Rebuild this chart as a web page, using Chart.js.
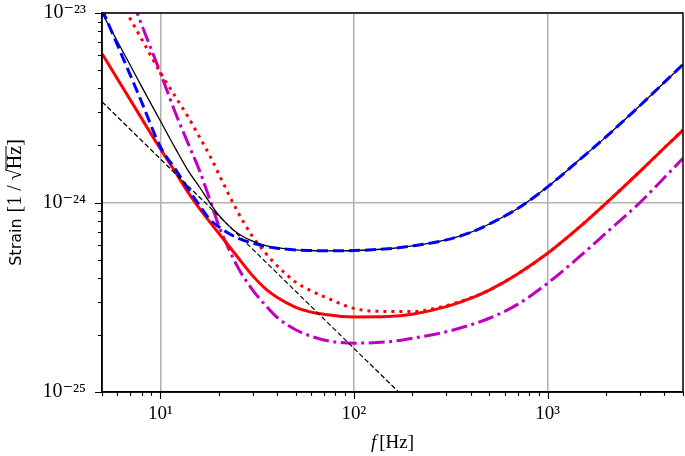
<!DOCTYPE html>
<html lang="en">

<head>
    <meta charset="UTF-8">
    <title>Strain</title>
    <script src="https://cdn.jsdelivr.net/npm/chart.js"></script>
    <style>
        body { margin: 0; background: #fff; }
        canvas { display: block; }
    </style>
</head>

<body>
    <canvas id="strainChart" width="685" height="456"></canvas>

    <script>
        const freq = [5, 6, 7, 8, 10, 12, 14, 16, 18, 20, 25, 30, 35, 40, 50, 60, 70, 100, 150, 200, 300, 400, 500, 700, 1000, 1500, 2000, 3000, 4000, 5000];

        const blueDashed = [1.05e-23, 6.8e-24, 4.7e-24, 3.4e-24, 1.97e-24, 1.49e-24, 1.17e-24, 9.6e-25, 8.15e-25, 7.45e-25, 6.5e-25, 6.1e-25, 5.86e-25, 5.74e-25, 5.62e-25, 5.58e-25, 5.56e-25, 5.58e-25, 5.7e-25, 5.9e-25, 6.35e-25, 6.95e-25, 7.7e-25, 9.3e-25, 1.21e-24, 1.72e-24, 2.22e-24, 3.25e-24, 4.3e-24, 5.35e-24];
        const blackSolid = [1.0e-23, 7.1e-24, 5.3e-24, 4.1e-24, 2.7e-24, 1.92e-24, 1.46e-24, 1.2e-24, 1.0e-24, 8.6e-25, 6.9e-25, 6.25e-25, 5.93e-25, 5.78e-25, 5.63e-25, 5.58e-25, 5.56e-25, 5.58e-25, 5.7e-25, 5.9e-25, 6.35e-25, 6.95e-25, 7.7e-25, 9.3e-25, 1.21e-24, 1.72e-24, 2.22e-24, 3.25e-24, 4.3e-24, 5.35e-24];
        const redSolid = [6.1e-24, 4.5e-24, 3.48e-24, 2.78e-24, 1.92e-24, 1.44e-24, 1.12e-24, 9.25e-25, 7.9e-25, 6.9e-25, 5.17e-25, 4.1e-25, 3.5e-25, 3.16e-25, 2.8e-25, 2.64e-25, 2.57e-25, 2.49e-25, 2.5e-25, 2.57e-25, 2.82e-25, 3.12e-25, 3.45e-25, 4.2e-25, 5.4e-25, 7.6e-25, 9.9e-25, 1.46e-24, 1.94e-24, 2.41e-24];
        const redDotted = [1.71e-23, 1.23e-23, 9.3e-24, 7.3e-24, 4.85e-24, 3.6e-24, 2.8e-24, 2.2e-24, 1.77e-24, 1.42e-24, 9.0e-25, 6.6e-25, 5.4e-25, 4.65e-25, 3.8e-25, 3.42e-25, 3.19e-25, 2.76e-25, 2.66e-25, 2.66e-25, 2.86e-25, 3.14e-25, 3.45e-25, 4.2e-25, 5.4e-25, 7.6e-25, 9.9e-25, 1.46e-24, 1.94e-24, 2.41e-24];
        const magentaDashDot = [3.0e-23, 1.87e-23, 1.24e-23, 8.7e-24, 4.85e-24, 2.95e-24, 2.02e-24, 1.46e-24, 1.04e-24, 7.6e-25, 4.6e-25, 3.45e-25, 2.86e-25, 2.48e-25, 2.13e-25, 1.97e-25, 1.88e-25, 1.81e-25, 1.84e-25, 1.92e-25, 2.08e-25, 2.26e-25, 2.45e-25, 2.9e-25, 3.75e-25, 5.3e-25, 6.9e-25, 1.0e-24, 1.35e-24, 1.71e-24];

        // thin black dashed reference line
        const refFreq = [5, 10, 20, 50, 100, 200];
        const refLine = [3.4e-24, 1.7e-24, 8.5e-25, 3.4e-25, 1.7e-25, 8.5e-26];

        // tick labels (decades only)
        const xDecades = [10, 100, 1000];
        const xTickLabels = ['10¹', '10²', '10³'];
        const yDecades = [1e-25, 1e-24, 1e-23];
        const yTickLabels = ['10⁻²⁵', '10⁻²⁴', '10⁻²³'];

        const serif = "'Liberation Serif', 'DejaVu Serif', serif";

        function isDecade(v) {
            const l = Math.log10(v);
            return Math.abs(l - Math.round(l)) < 1e-6;
        }

        function pts(xs, ys) {
            return xs.map((x, i) => ({ x: x, y: ys[i] }));
        }

        // 1..9 x 10^n ticks inside [min, max]
        function logTicks(min, max) {
            const out = [];
            for (let d = Math.floor(Math.log10(min)); d <= Math.ceil(Math.log10(max)); d++) {
                for (let m = 1; m < 10; m++) {
                    const v = m * Math.pow(10, d);
                    if (v >= min * 0.999999 && v <= max * 1.000001) out.push({ value: v });
                }
            }
            return out;
        }

        function labelFor(v, decades, labels) {
            for (let i = 0; i < decades.length; i++) {
                if (Math.abs(Math.log10(v) - Math.log10(decades[i])) < 1e-6) return labels[i];
            }
            return '';
        }

        function noPad(s) {
            s.paddingLeft = 0; s.paddingRight = 0;
            s.paddingTop = 0; s.paddingBottom = 0;
        }

        // ticks, frame and axis titles
        const axisDeco = {
            id: 'axisDeco',
            afterDraw(chart) {
                const { ctx, chartArea: a, scales } = chart;
                const x = scales.x, y = scales.y;
                ctx.save();
                ctx.strokeStyle = '#000';
                ctx.lineWidth = 1.1;
                ctx.beginPath();
                x.ticks.forEach(t => {
                    const px = Math.round(x.getPixelForValue(t.value)) + 0.5;
                    const len = isDecade(t.value) ? 7 : 4;
                    ctx.moveTo(px, a.bottom);
                    ctx.lineTo(px, a.bottom + len);
                });
                y.ticks.forEach(t => {
                    const py = Math.round(y.getPixelForValue(t.value)) + 0.5;
                    const len = isDecade(t.value) ? 7 : 4;
                    ctx.moveTo(a.left, py);
                    ctx.lineTo(a.left - len, py);
                });
                ctx.stroke();

                ctx.lineWidth = 1.5;
                ctx.strokeRect(a.left, a.top, a.right - a.left, a.bottom - a.top);

                // x title: italic f [Hz]
                ctx.fillStyle = '#000';
                ctx.textBaseline = 'alphabetic';
                const fFont = 'italic 19px ' + serif;
                const rFont = '19px ' + serif;
                ctx.font = fFont;
                const wf = ctx.measureText('f').width + 3;
                ctx.font = rFont;
                const wr = ctx.measureText('[Hz]').width;
                const sx = (a.left + a.right) / 2 - (wf + wr) / 2;
                const sy = 448;
                ctx.font = fFont;
                ctx.fillText('f', sx, sy);
                ctx.font = rFont;
                ctx.fillText('[Hz]', sx + wf, sy);

                // y title: Strain [1/√Hz]
                ctx.save();
                ctx.translate(21, (a.top + a.bottom) / 2);
                ctx.rotate(-Math.PI / 2);
                const sFont = "16px 'DejaVu Sans', sans-serif";
                const mFont = '20px ' + serif;
                ctx.font = sFont;
                const w0 = ctx.measureText('Strain').width + 6;
                ctx.font = mFont;
                const p1 = '[1 / ', p2 = '√', p3 = 'Hz', p4 = ']';
                const w1 = ctx.measureText(p1).width, w2 = ctx.measureText(p2).width;
                const w3 = ctx.measureText(p3).width, w4 = ctx.measureText(p4).width;
                let cx = -(w0 + w1 + w2 + w3 + w4) / 2;
                ctx.font = sFont;
                ctx.fillText('Strain', cx, 0); cx += w0;
                ctx.font = mFont;
                ctx.fillText(p1, cx, 0); cx += w1;
                ctx.fillText(p2, cx, 0); cx += w2;
                ctx.fillText(p3, cx, 0);
                ctx.lineWidth = 1;
                ctx.beginPath();
                ctx.moveTo(cx - 1, -15);
                ctx.lineTo(cx + w3, -15);
                ctx.stroke();
                cx += w3;
                ctx.fillText(p4, cx, 0);
                ctx.restore();

                ctx.restore();
            }
        };

        function line(label, data, color, width, dash) {
            return {
                label: label,
                data: data,
                borderColor: color,
                borderWidth: width,
                borderDash: dash,
                pointRadius: 0,
                cubicInterpolationMode: 'monotone',
                fill: false,
                clip: 0,
            };
        }

        const ctx = document.getElementById('strainChart').getContext('2d');
        new Chart(ctx, {
            type: 'line',
            data: {
                datasets: [
                    line('ref', pts(refFreq, refLine), '#000000', 1.2, [5, 2.5]),
                    line('blue', pts(freq, blueDashed), '#0000ff', 3, [11, 5]),
                    line('black', pts(freq, blackSolid), '#000000', 1.3, []),
                    line('red', pts(freq, redSolid), '#ff0000', 3, []),
                    line('red dotted', pts(freq, redDotted), '#ff0000', 3, [3, 5]),
                    line('magenta', pts(freq, magentaDashDot), '#bf00bf', 3, [16, 4.5, 3, 4.5]),
                ],
            },
            options: {
                responsive: false,
                animation: false,
                layout: { padding: { top: 13, right: 2, bottom: 0, left: 0 } },
                plugins: { legend: { display: false }, tooltip: { enabled: false } },
                scales: {
                    x: {
                        type: 'logarithmic',
                        min: 5,
                        max: 5000,
                        afterBuildTicks: s => { s.ticks = logTicks(5, 5000); },
                        afterFit: s => { s.height = 64; noPad(s); },
                        grid: {
                            color: c => (c.tick && isDecade(c.tick.value)) ? '#b0b0b0' : 'rgba(0,0,0,0)',
                            lineWidth: 1.5,
                            drawTicks: false,
                        },
                        border: { display: true, color: '#000', width: 1.5 },
                        ticks: {
                            autoSkip: false,
                            maxRotation: 0,
                            padding: 11,
                            color: '#000',
                            font: { family: serif, size: 19 },
                            callback: v => labelFor(v, xDecades, xTickLabels),
                        },
                    },
                    y: {
                        type: 'logarithmic',
                        min: 1e-25,
                        max: 1e-23,
                        afterBuildTicks: s => { s.ticks = logTicks(1e-25, 1e-23); },
                        afterFit: s => { s.width = 102; noPad(s); },
                        grid: {
                            color: c => (c.tick && isDecade(c.tick.value)) ? '#b0b0b0' : 'rgba(0,0,0,0)',
                            lineWidth: 1.5,
                            drawTicks: false,
                        },
                        border: { display: true, color: '#000', width: 1.5 },
                        ticks: {
                            autoSkip: false,
                            padding: 16,
                            color: '#000',
                            font: { family: serif, size: 20 },
                            callback: v => labelFor(v, yDecades, yTickLabels),
                        },
                    },
                },
            },
            plugins: [axisDeco],
        });
    </script>

</body>

</html>
